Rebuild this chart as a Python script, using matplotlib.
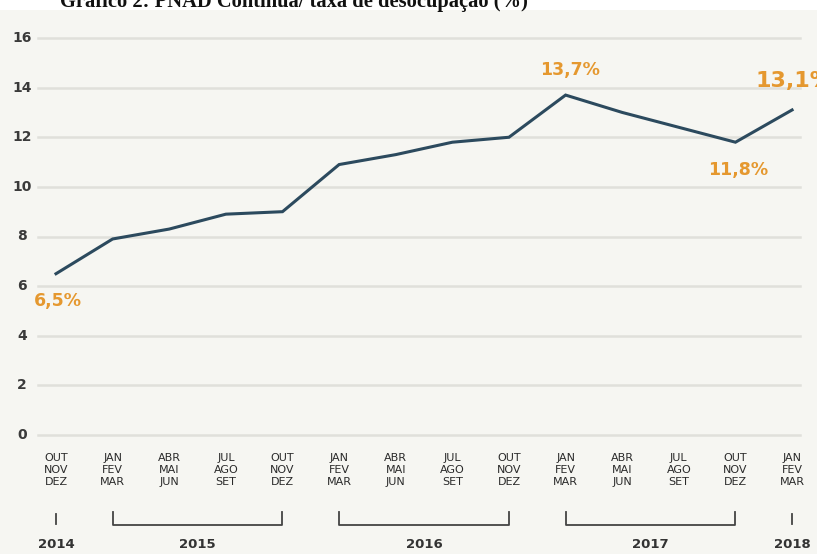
import matplotlib
matplotlib.use('Agg')
import matplotlib.pyplot as plt
import matplotlib.transforms as mtransforms
from matplotlib import font_manager

# data
values = [6.5, 7.9, 8.3, 8.9, 9.0, 10.9, 11.3, 11.8, 12.0, 13.7, 13.0, 12.4, 11.8, 13.1]
quarters = ['OUT\nNOV\nDEZ', 'JAN\nFEV\nMAR', 'ABR\nMAI\nJUN', 'JUL\nAGO\nSET',
            'OUT\nNOV\nDEZ', 'JAN\nFEV\nMAR', 'ABR\nMAI\nJUN', 'JUL\nAGO\nSET',
            'OUT\nNOV\nDEZ', 'JAN\nFEV\nMAR', 'ABR\nMAI\nJUN', 'JUL\nAGO\nSET',
            'OUT\nNOV\nDEZ', 'JAN\nFEV\nMAR']
years = ['2014', '2015', '2016', '2017', '2018']
year_spans = [(0, 0), (1, 4), (5, 8), (9, 12), (13, 13)]
y_ticks = [0, 2, 4, 6, 8, 10, 12, 14, 16]
highlights = [(0, '6,5%'), (9, '13,7%'), (12, '11,8%'), (13, '13,1%')]

installed = {f.name for f in font_manager.fontManager.ttflist}
narrow = [f for f in ['Liberation Sans Narrow', 'DejaVu Sans Condensed'] if f in installed]
narrow = narrow + ['DejaVu Sans']
bg = '#f6f6f2'
orange = '#e5982f'

fig = plt.figure(figsize=(8.17, 5.54), dpi=100)
fig.patch.set_facecolor('white')
# off-white panel below the title band
fig.patches.append(plt.Rectangle((0, 0), 1, 1 - 10 / 554, transform=fig.transFigure,
                                 facecolor=bg, edgecolor='none', zorder=-5))

fig.text(60 / 817, 1 - 7 / 554, 'Gráfico 2: PNAD Contínua/ taxa de desocupação (%)',
         family=['Liberation Serif', 'DejaVu Serif'], fontweight='bold', fontsize=14.8,
         va='baseline', ha='left', color='#111111')

ax = fig.add_axes([38 / 817, (554 - 435) / 554, (800 - 38) / 817, (435 - 38) / 554])
ax.set_facecolor('none')
ax.set_zorder(2)
x = list(range(len(values)))
ax.set_xlim(-0.318, 13.14)
ax.set_ylim(0, 16)

for t in y_ticks:
    ax.axhline(t, color='#e0e0db', lw=1.8, zorder=1, clip_on=False)
    ax.text(-0.318 - 16 / 56.6, t, str(t), ha='center', va='center', fontsize=10,
            family=narrow, fontweight='bold', color='#3a3a3a')

ax.plot(x, values, color='#2c4a5e', lw=2.2, zorder=3, clip_on=False,
        solid_joinstyle='miter')

offsets = {0: (1, -20), 9: (3, 18), 12: (2, -20), 13: (1.5, 21)}
sizes = {0: 12.5, 9: 12.5, 12: 12.5, 13: 16}
for i, lab in highlights:
    ax.annotate(lab, (i, values[i]), xytext=offsets[i], textcoords='offset points',
                ha='center', va='center', fontsize=sizes[i], family=narrow,
                fontweight='bold', color=orange, annotation_clip=False)

for s in ax.spines.values():
    s.set_visible(False)
ax.set_xticks([])
ax.set_yticks([])

# quarter labels, brackets and years below the axis
trans = mtransforms.blended_transform_factory(ax.transData, fig.transFigure)
for i, q in enumerate(quarters):
    ax.text(i, 1 - 470 / 554, q, transform=trans, ha='center', va='center',
            fontsize=8, family=narrow, color='#2a2a2a', linespacing=1.3)

for (a, b), yr in zip(year_spans, years):
    if a == b:
        ax.plot([a, a], [1 - 514 / 554, 1 - 524 / 554], transform=trans, color='#444444',
                lw=1.3, clip_on=False)
    else:
        ax.plot([a, a, b, b], [1 - 512 / 554, 1 - 525 / 554, 1 - 525 / 554, 1 - 512 / 554],
                transform=trans, color='#444444', lw=1.3, clip_on=False)
    ax.text((a + b) / 2, 1 - 545 / 554, yr, transform=trans, ha='center', va='center',
            fontsize=9.5, family=narrow, fontweight='bold', color='#333333')

fig.savefig('out.png', dpi=100, facecolor=fig.get_facecolor())
